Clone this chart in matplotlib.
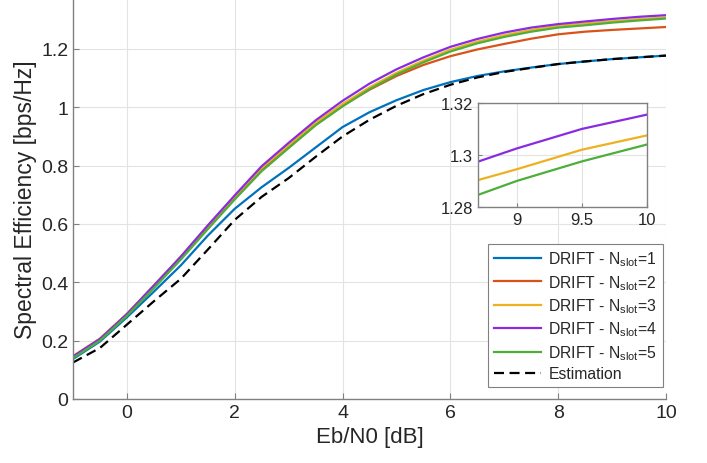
import matplotlib
matplotlib.use('Agg')
import matplotlib.pyplot as plt
import numpy as np

plt.rcParams['font.family'] = ['Liberation Sans', 'DejaVu Sans']
plt.rcParams['mathtext.fontset'] = 'custom'
plt.rcParams['mathtext.rm'] = 'Liberation Sans'

# Eb/N0 points [dB]
ebn0 = [-1, -0.5, 0, 0.5, 1, 1.5, 2, 2.5, 3, 3.5, 4, 4.5, 5, 5.5, 6, 6.5, 7, 7.5, 8, 8.5, 9, 9.5, 10]

se_n1 = [0.137, 0.197, 0.280, 0.368, 0.458, 0.560, 0.652, 0.726, 0.792, 0.862, 0.932, 0.983, 1.024, 1.059, 1.086,
         1.107, 1.123, 1.136, 1.148, 1.157, 1.165, 1.171, 1.177]
se_n2 = [0.146, 0.206, 0.291, 0.388, 0.486, 0.590, 0.690, 0.787, 0.864, 0.940, 1.005, 1.060, 1.107, 1.145, 1.175,
         1.198, 1.217, 1.235, 1.250, 1.259, 1.265, 1.270, 1.275]
se_n3 = [0.147, 0.207, 0.292, 0.389, 0.488, 0.593, 0.694, 0.792, 0.870, 0.947, 1.011, 1.068, 1.118, 1.160, 1.197,
         1.225, 1.247, 1.265, 1.279, 1.2875, 1.2945, 1.302, 1.3075]
se_n4 = [0.146, 0.206, 0.291, 0.389, 0.488, 0.595, 0.698, 0.798, 0.878, 0.955, 1.022, 1.081, 1.130, 1.171, 1.207,
         1.234, 1.256, 1.273, 1.285, 1.294, 1.3025, 1.310, 1.3155]
se_n5 = [0.140, 0.200, 0.285, 0.380, 0.478, 0.582, 0.684, 0.781, 0.860, 0.938, 1.003, 1.062, 1.112, 1.154, 1.191,
         1.219, 1.241, 1.259, 1.273, 1.281, 1.290, 1.2975, 1.304]
se_est = [0.125, 0.175, 0.255, 0.335, 0.412, 0.512, 0.614, 0.693, 0.757, 0.830, 0.900, 0.957, 1.005, 1.045, 1.077,
          1.102, 1.121, 1.135, 1.148, 1.157, 1.165, 1.171, 1.177]

labels = [r'DRIFT - N$_{\mathrm{slot}}$=%d' % k for k in range(1, 6)]
colors = ['#0072BD', '#D95319', '#EDB120', '#8A2BE2', '#4DAF3A']
series = [se_n1, se_n2, se_n3, se_n4, se_n5]

axcol = '#808080'
gridcol = '#e3e3e3'

fig = plt.figure(figsize=(7.07, 4.64), dpi=100)
ax = fig.add_axes([0.1033, 0.138, 0.8387, 0.862])

for s, c, l in zip(series, colors, labels):
    ax.plot(ebn0, s, color=c, lw=1.6, label=l)
ax.plot(ebn0, se_est, color='k', lw=1.6, dashes=(4.5, 2.5), label='Estimation')

ax.set_xlim(-1, 10)
ax.set_ylim(0, 1.371)
ax.set_xticks([0, 2, 4, 6, 8, 10])
ax.set_yticks([0, 0.2, 0.4, 0.6, 0.8, 1.0, 1.2])
ax.set_yticklabels(['0', '0.2', '0.4', '0.6', '0.8', '1', '1.2'])
ax.grid(True, color=gridcol, lw=0.8)
ax.set_axisbelow(True)
for sp in ['top', 'right']:
    ax.spines[sp].set_visible(False)
for sp in ['left', 'bottom']:
    ax.spines[sp].set_color(axcol)
    ax.spines[sp].set_linewidth(1.0)
ax.tick_params(direction='in', length=4, color=axcol, labelsize=14, labelcolor='#262626')
ax.set_xlabel('Eb/N0 [dB]', fontsize=16, color='#262626')
ax.set_ylabel('Spectral Efficiency [bps/Hz]', fontsize=16.5, color='#262626', labelpad=3)

leg = ax.legend(loc='lower right', bbox_to_anchor=(0.995, 0.03), borderaxespad=0, fontsize=11.3,
                fancybox=False, framealpha=1, edgecolor=axcol, handlelength=3.0, labelspacing=0.3,
                handletextpad=0.5, borderpad=0.35)
leg.get_frame().set_linewidth(0.8)
for t in leg.get_texts():
    t.set_color('#262626')

# zoomed inset
axin = fig.add_axes([0.676, 0.552, 0.239, 0.224])
for s, c in zip([se_n3, se_n4, se_n5], [colors[2], colors[3], colors[4]]):
    axin.plot(ebn0, s, color=c, lw=1.6)
axin.set_xlim(8.7, 10)
axin.set_ylim(1.28, 1.32)
axin.set_xticks([9, 9.5, 10])
axin.set_xticklabels(['9', '9.5', '10'])
axin.set_yticks([1.28, 1.3, 1.32])
axin.set_yticklabels(['1.28', '1.3', '1.32'])
axin.grid(True, color=gridcol, lw=0.8)
axin.set_axisbelow(True)
for sp in axin.spines.values():
    sp.set_color(axcol)
    sp.set_linewidth(1.0)
axin.tick_params(direction='in', length=3, color=axcol, labelsize=12, labelcolor='#262626')

fig.savefig('out.png', dpi=100)
